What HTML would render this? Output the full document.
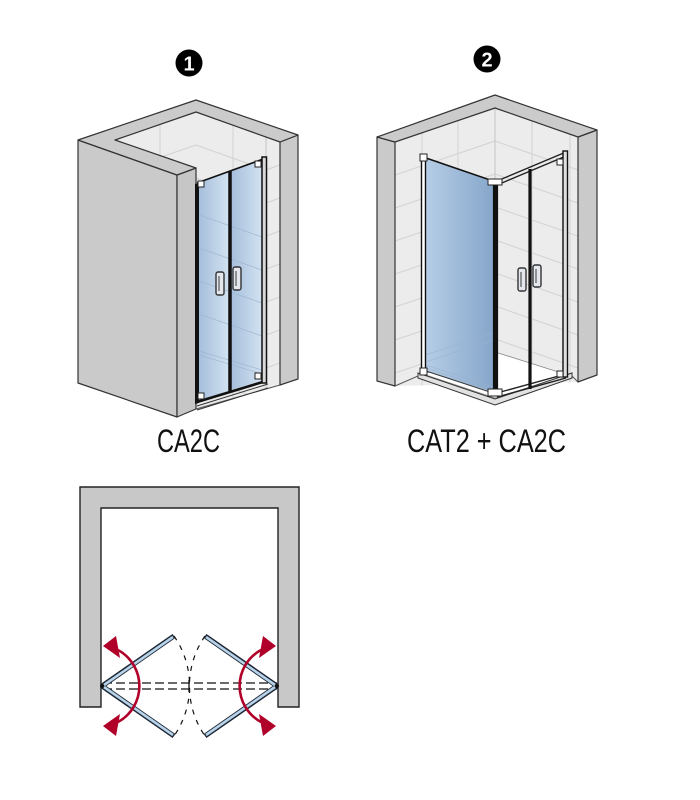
<!DOCTYPE html>
<html><head><meta charset="utf-8"><style>html,body{margin:0;padding:0;background:#fff;}svg{display:block;}</style></head>
<body>
<svg width="700" height="800" viewBox="0 0 700 800" xmlns="http://www.w3.org/2000/svg">
<defs>
  <linearGradient id="g1" x1="0" x2="1" y1="0" y2="0">
    <stop offset="0" stop-color="#a6bfdc"/>
    <stop offset="1" stop-color="#d2e2f1"/>
  </linearGradient>
  <linearGradient id="g2" x1="0" x2="1" y1="0" y2="0">
    <stop offset="0" stop-color="#b6cde6"/>
    <stop offset="1" stop-color="#86a7cb"/>
  </linearGradient>
  <clipPath id="c1"><polygon points="115,140 196,112 266,137 280,142 280,385 196,409 196,168"/></clipPath>
  <clipPath id="c2"><polygon points="395,142 495,108 578,137 578,382 395,386"/></clipPath>
</defs>
<rect width="700" height="800" fill="#fff"/>

<!-- numbers -->
<circle cx="189" cy="63" r="13.5" fill="#000"/>
<text x="189" y="70.5" font-family="Liberation Sans, sans-serif" font-weight="bold" font-size="20" fill="#fff" text-anchor="middle">1</text>
<circle cx="487" cy="59" r="13.5" fill="#000"/>
<text x="487" y="66.5" font-family="Liberation Sans, sans-serif" font-weight="bold" font-size="20" fill="#fff" text-anchor="middle">2</text>

<!-- ============ DRAWING 1 ============ -->
<polygon points="115,140 196,112 266,137 280,142 280,385 196,409 196,168" fill="#ececec"/>
<g clip-path="url(#c1)" stroke="#d2d2d2" stroke-width="1" fill="none">
  <path d="M196,112 L266,137 M196,145 L266,170 M196,178 L266,203 M196,211 L266,236 M196,244 L266,269 M196,277 L266,302 M196,310 L266,335 M196,343 L266,368 M196,376 L266,401"/>
  <path d="M196,112 L115,140 M196,145 L115,173 M196,178 L115,206"/>
  <path d="M266,170 L280,165 M266,203 L280,198 M266,236 L280,231 M266,269 L280,264 M266,302 L280,297 M266,335 L280,330 M266,368 L280,363"/>
  <path d="M160,100 V300 M233,100 V420"/>
  <path d="M266,137 V400" stroke="#c4c4c4"/>
</g>
<path d="M196,409 L280,385" stroke="#555" stroke-width="1" fill="none"/>

<!-- left block -->
<polygon points="78,140 177,175 177,417 78,383" fill="#cacaca" stroke="#333" stroke-width="1.2" stroke-linejoin="round"/>
<polygon points="177,175 196,168 196,409 177,417" fill="#c6c6c6" stroke="#333" stroke-width="1.2" stroke-linejoin="round"/>
<!-- right wall front -->
<polygon points="280,142 298,135 298,379 280,385" fill="#cacaca" stroke="#333" stroke-width="1.2" stroke-linejoin="round"/>
<!-- top face -->
<polygon points="78,140 196,100 298,135 280,142 196,112 115,140 196,168 177,175" fill="#cbcbcb" stroke="#333" stroke-width="1.2" stroke-linejoin="round"/>

<!-- door 1 glass -->
<polygon points="199,183 229,172 229,391 199,402" fill="url(#g1)"/>
<polygon points="231,171 262,160 262,381 231,390" fill="url(#g1)"/>
<g stroke="#9cb4ce" stroke-width="0.8" fill="none" opacity="0.8">
  <path d="M199,215 L262,237 M199,248 L262,270 M199,281 L262,303 M199,314 L262,336"/>
  <path d="M199,351 L262,370 M199,355 L262,374"/>
</g>
<path d="M197,406 L268,384 M197,410 L268,388" stroke="#333" stroke-width="1" fill="none"/>
<polygon points="195,184 199,183 199,403 195,404" fill="#111"/>
<path d="M197,183 L266,158" stroke="#111" stroke-width="1.6" fill="none"/>
<path d="M197,402 L266,381" stroke="#111" stroke-width="2.6" fill="none"/>
<path d="M230,171 V391" stroke="#111" stroke-width="3.5"/>
<rect x="262" y="157" width="4.5" height="226" fill="#d9d9d9" stroke="#111" stroke-width="1.5"/>
<g fill="#fff" stroke="#222" stroke-width="1">
  <rect x="198" y="181" width="6" height="6"/>
  <rect x="255" y="161" width="6" height="6"/>
  <rect x="198" y="393" width="6" height="6"/>
  <rect x="255" y="373" width="6" height="6"/>
</g>
<g fill="#e4e8ee" stroke="#333" stroke-width="1.4">
  <rect x="216" y="272" width="8" height="23" rx="2"/>
  <rect x="233" y="267" width="8" height="23" rx="2"/>
</g>
<path d="M219,276 V291 M236,271 V286" stroke="#555" stroke-width="1.2"/>

<text x="188.5" y="452" font-family="Liberation Sans, sans-serif" font-size="32" fill="#111" text-anchor="middle" textLength="63" lengthAdjust="spacingAndGlyphs">CA2C</text>

<!-- ============ DRAWING 2 ============ -->
<polygon points="395,142 495,108 578,137 578,382 395,386" fill="#ececec"/>
<g clip-path="url(#c2)" stroke="#d2d2d2" stroke-width="1" fill="none">
  <path d="M495,108 L395,142 M495,141 L395,175 M495,174 L395,208 M495,207 L395,241 M495,240 L395,274 M495,273 L395,307 M495,306 L395,340 M495,339 L395,373"/>
  <path d="M495,108 L578,137 M495,141 L578,170 M495,174 L578,203 M495,207 L578,236 M495,240 L578,269 M495,273 L578,302 M495,306 L578,335 M495,339 L578,368"/>
  <path d="M422,100 V400 M458,100 V400 M532,100 V400 M570,100 V400"/>
  <path d="M495,108 V352" stroke="#c4c4c4"/>
</g>
<polygon points="495,352 423,374 495,398 568,375" fill="#fff" stroke="#888" stroke-width="0.8"/>
<polygon points="418,373 495,399 572,373 572,378 495,405 418,378" fill="#e2e2e2" stroke="#333" stroke-width="1"/>
<path d="M395,386 L418,376 M572,376 L578,382" stroke="#555" stroke-width="1" fill="none"/>

<polygon points="377,137 395,142 395,386 377,381" fill="#cacaca" stroke="#333" stroke-width="1.2" stroke-linejoin="round"/>
<polygon points="578,137 597,130 597,375 578,382" fill="#cacaca" stroke="#333" stroke-width="1.2" stroke-linejoin="round"/>
<polygon points="377,137 495,95 597,130 578,137 495,108 395,142" fill="#cbcbcb" stroke="#333" stroke-width="1.2" stroke-linejoin="round"/>

<polygon points="425,158 493,182 493,392 425,371" fill="url(#g2)"/>
<g stroke="#9ab3cd" stroke-width="0.8" fill="none" opacity="0.7">
  <path d="M425,355 L493,333 M425,362 L493,340"/>
  <path d="M426,365 L493,387 M426,368 L493,390"/>
</g>
<path d="M426,158 L493,181" stroke="#111" stroke-width="1.6" fill="none"/>
<path d="M426,371 L493,393" stroke="#333" stroke-width="1" fill="none"/>
<rect x="421.5" y="157" width="4" height="216" fill="#fff" stroke="#111" stroke-width="1.4"/>
<rect x="493.5" y="181" width="4" height="214" fill="#111" stroke="#111" stroke-width="1.2"/>
<path d="M497,181 L566,152 M497,185 L566,156" stroke="#222" stroke-width="1.4" fill="none"/>
<path d="M497,393 L566,374 M497,397 L566,378" stroke="#222" stroke-width="1.4" fill="none"/>
<path d="M530,169 V389" stroke="#111" stroke-width="3.2"/>
<rect x="563" y="151" width="4.5" height="226" fill="#e0e0e0" stroke="#111" stroke-width="1.4"/>
<g fill="#fff" stroke="#222" stroke-width="1">
  <rect x="420" y="154" width="7" height="7"/>
  <rect x="488" y="179" width="14" height="6"/>
  <rect x="557" y="159" width="6" height="6"/>
  <rect x="420" y="368" width="7" height="7"/>
  <rect x="488" y="389" width="14" height="7"/>
  <rect x="557" y="371" width="6" height="6"/>
</g>
<g fill="#e4e8ee" stroke="#333" stroke-width="1.4">
  <rect x="518" y="268" width="8" height="23" rx="2"/>
  <rect x="533" y="265" width="8" height="22" rx="2"/>
</g>
<path d="M521,272 V287 M536,269 V283" stroke="#555" stroke-width="1.2"/>

<text x="486.5" y="452" font-family="Liberation Sans, sans-serif" font-size="32" fill="#111" text-anchor="middle" textLength="159" lengthAdjust="spacingAndGlyphs">CAT2 + CA2C</text>

<!-- ============ FLOOR PLAN ============ -->
<polygon points="80,487 299,487 299,707 278,707 278,508 101,508 101,707 80,707" fill="#c8c8c8" stroke="#222" stroke-width="1.4" stroke-linejoin="miter"/>

<path d="M174,636 A88,88 0 0 1 174,736" fill="none" stroke="#111" stroke-width="1.2" stroke-dasharray="5,6"/>
<path d="M205,636 A88,88 0 0 0 205,736" fill="none" stroke="#111" stroke-width="1.2" stroke-dasharray="5,6"/>
<path d="M103,683 H277 M103,689 H277" stroke="#111" stroke-width="1.3" stroke-dasharray="9,4" fill="none"/>
<path d="M189,680 V692" stroke="#111" stroke-width="1.3"/>

<g stroke-linecap="butt" fill="none">
  <path d="M102,686 L174,636 M102,686 L174,736 M277,686 L205,636 M277,686 L205,736" stroke="#1d2633" stroke-width="5"/>
  <path d="M104,685 L173,637 M104,687 L173,735 M275,685 L206,637 M275,687 L206,735" stroke="#b7d3ea" stroke-width="2.6"/>
</g>
<circle cx="102" cy="686" r="2" fill="#111"/>
<circle cx="277" cy="686" r="2" fill="#111"/>

<g fill="none" stroke="#b0002a" stroke-width="2.6">
  <path d="M118,650 A41,41 0 0 1 118,722"/>
  <path d="M261,650 A41,41 0 0 0 261,722"/>
</g>
<g fill="#b0002a">
  <polygon points="103,646 116,636 120,658"/>
  <polygon points="103,726 116,736 120,714"/>
  <polygon points="276,646 263,636 259,658"/>
  <polygon points="276,726 263,736 259,714"/>
</g>
</svg>
</body></html>
